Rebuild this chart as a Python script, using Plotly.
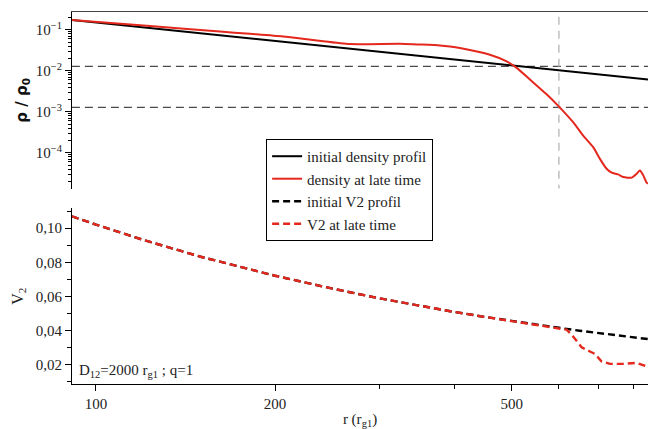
import plotly.graph_objects as go

# ---- density profiles (rho / rho0) vs r (r_g1) ----
r_init_dens = [91.1, 150, 250, 400, 600, 847]
rho_init = [0.175, 0.0827, 0.0384, 0.0190, 0.01034, 0.00616]

r_late_dens = [91.1, 123.3, 161.6, 181.5, 206.2, 235.1, 267.3, 324.3, 346.3,
               378.6, 393.6, 409.1, 459.4, 490.1, 509.5, 536.3, 572.1, 600.1,
               634.3, 659.2, 685.2, 703.2, 721.7, 735.8, 754.8, 769.5, 795.0,
               810.5, 821.0, 831.6, 842.6, 847.0]
rho_late = [0.175, 0.124, 0.0910, 0.0800, 0.0689, 0.0551, 0.0451, 0.0458, 0.0441,
            0.0417, 0.0394, 0.0361, 0.0248, 0.0171, 0.0118, 0.00615, 0.00267, 0.00134,
            0.000551, 0.000261, 0.000137, 7.11e-5, 4.07e-5, 3.26e-5, 2.96e-5, 2.56e-5, 2.47e-5,
            3.08e-5, 3.71e-5, 2.81e-5, 1.87e-5, 1.77e-5]

# ---- V2 profiles ----
r_init_v2 = [91.1, 100, 120, 150, 200, 250, 300, 350, 400, 450, 500, 550, 600,
             650, 700, 750, 800, 847]
v2_init = [0.1070, 0.1021, 0.0932, 0.0833, 0.0722, 0.0646, 0.0589, 0.0546, 0.0510,
           0.0481, 0.0456, 0.0435, 0.0417, 0.0400, 0.0386, 0.0373, 0.0361, 0.0351]

r_late_v2 = [91.1, 100, 120, 150, 200, 250, 300, 350, 400, 450, 500, 550, 600,
             618.2, 634.3, 655.2, 676.6, 689.8, 707.8, 731.0, 769.5, 810.5, 842.6, 847]
v2_late = [0.1070, 0.1021, 0.0932, 0.0833, 0.0722, 0.0646, 0.0589, 0.0546, 0.0510,
           0.0481, 0.0456, 0.0435, 0.0417, 0.0406, 0.0365, 0.0303, 0.0278, 0.0264,
           0.0220, 0.0206, 0.0206, 0.0212, 0.0191, 0.0190]

# reference levels
rho_levels = [0.0128, 0.00128]
r_marker = 600

# tick labels
x_tickvals = [100, 200, 500]
x_ticktext = ["100", "200", "500"]
x_minor = [300, 400, 600, 700, 800]
rho_tickvals = [1e-4, 1e-3, 1e-2, 1e-1]
rho_ticktext = ["10<sup>−4</sup>", "10<sup>−3</sup>", "10<sup>−2</sup>", "10<sup>−1</sup>"]
v2_tickvals = [0.02, 0.04, 0.06, 0.08, 0.10]
v2_minor = [0.01, 0.03, 0.05, 0.07, 0.09, 0.11]

x_range = [91.1, 847]
top_range = [-0.564, -4.874]
v2_range = [0.0088, 0.1116]

RED = "#e4281e"
SERIF = "Liberation Serif"

fig = go.Figure()

# horizontal dashed reference levels (top panel)
for lev in rho_levels:
    fig.add_trace(go.Scatter(x=x_range, y=[lev, lev], mode="lines",
                             line=dict(color="#4a4a4a", width=1.3, dash="8px,5px"),
                             xaxis="x2", yaxis="y2", showlegend=False, hoverinfo="skip"))
# vertical dashed marker (top panel)
fig.add_trace(go.Scatter(x=[r_marker, r_marker], y=[1e-6, 1], mode="lines",
                         line=dict(color="#b4b4b4", width=1.3, dash="8px,6px"),
                         xaxis="x2", yaxis="y2", showlegend=False, hoverinfo="skip"))

fig.add_trace(go.Scatter(x=r_init_dens, y=rho_init, mode="lines",
                         line=dict(color="black", width=2),
                         name="initial density profil", xaxis="x2", yaxis="y2"))
fig.add_trace(go.Scatter(x=r_late_dens, y=rho_late, mode="lines",
                         line=dict(color=RED, width=2, shape="spline", smoothing=0.6),
                         name="density at late time", xaxis="x2", yaxis="y2"))

fig.add_trace(go.Scatter(x=r_init_v2, y=v2_init, mode="lines",
                         line=dict(color="black", width=2.4, dash="7px,4px"),
                         name="initial V2 profil", xaxis="x", yaxis="y"))
fig.add_trace(go.Scatter(x=r_late_v2, y=v2_late, mode="lines",
                         line=dict(color=RED, width=2.4, dash="7px,4px"),
                         name="V2 at late time", xaxis="x", yaxis="y"))

tickfont = dict(family=SERIF, size=15, color="#222")
xr = [2 - 0.0403, 2.9279]

fig.update_layout(
    width=648, height=429,
    margin=dict(l=72, r=0, t=12, b=42),
    paper_bgcolor="white", plot_bgcolor="white",
    separators=", ",
    font=dict(family=SERIF, size=15, color="#222"),
    xaxis=dict(type="log", range=xr, domain=[0, 1],
               anchor="y", showline=True, linecolor="black", linewidth=1.2,
               showgrid=False, zeroline=False,
               tickvals=x_tickvals, ticktext=x_ticktext,
               ticks="outside", ticklen=6, tickcolor="black", tickfont=tickfont,
               minor=dict(tickvals=x_minor, ticks="outside",
                          ticklen=4, tickcolor="black"),
               title=dict(text="r (r<sub>g1</sub>)", font=dict(family=SERIF, size=15),
                          standoff=6)),
    yaxis=dict(domain=[0, 0.472], range=v2_range, anchor="x",
               showline=True, linecolor="black", linewidth=1.2,
               showgrid=False, zeroline=False,
               tickvals=v2_tickvals, tickformat=".2f",
               ticks="outside", ticklen=6, tickcolor="black", tickfont=tickfont,
               minor=dict(tickvals=v2_minor,
                          ticks="outside", ticklen=4, tickcolor="black"),
               title=dict(text="V<sub>2</sub>", font=dict(family=SERIF, size=16),
                          standoff=8)),
    xaxis2=dict(type="log", range=xr, domain=[0, 1],
                anchor="y2", side="top", showline=True, linecolor="#444",
                linewidth=1.2, showgrid=False, zeroline=False,
                showticklabels=False, ticks=""),
    yaxis2=dict(type="log", domain=[0.5253, 1], range=[top_range[1], top_range[0]],
                anchor="x2", showline=True, linecolor="black", linewidth=1.2,
                showgrid=False, zeroline=False,
                tickvals=rho_tickvals, ticktext=rho_ticktext,
                ticks="outside", ticklen=6, tickcolor="black", tickfont=tickfont,
                minor=dict(dtick="D1", ticks="outside", ticklen=3, tickcolor="black"),
                title=dict(text="<b>ρ / ρ<sub>0</sub></b>",
                           font=dict(family="DejaVu Sans", size=15, color="#111"),
                           standoff=4)),
    legend=dict(x=0.337, y=0.6587, xanchor="left", yanchor="top",
                bgcolor="white", bordercolor="black", borderwidth=1,
                font=dict(family=SERIF, size=15, color="#222"),
                tracegroupgap=0),
    showlegend=True,
    annotations=[dict(text="D<sub>12</sub>=2000 r<sub>g1</sub> ; q=1",
                      xref="paper", yref="paper", x=0.008, y=0.005,
                      xanchor="left", yanchor="bottom", showarrow=False,
                      font=dict(family=SERIF, size=15, color="#222"))],
)

fig.write_html("out.html")
